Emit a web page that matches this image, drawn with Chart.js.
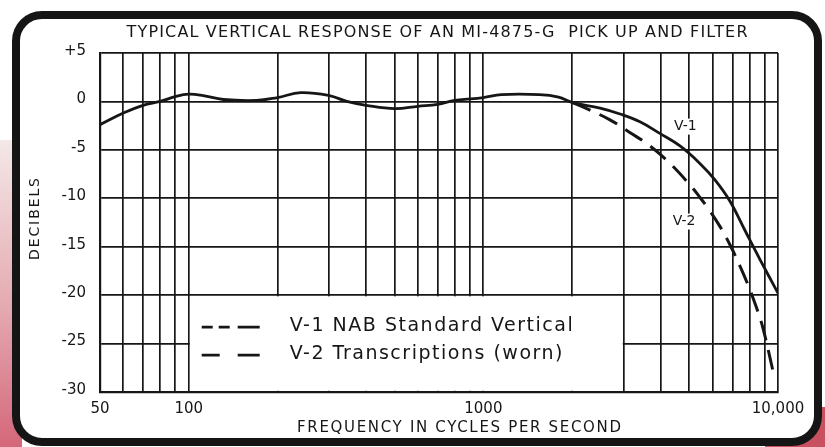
<!DOCTYPE html>
<html>
<head>
<meta charset="utf-8">
<title>Typical vertical response of an MI-4875-G pick up and filter</title>
<script src="https://cdn.jsdelivr.net/npm/chart.js@4.4.1/dist/chart.umd.min.js"></script>
<style>
  html, body { margin: 0; padding: 0; background: #fff; }
  #page { position: relative; width: 825px; height: 447px; overflow: hidden; background: #fff; }
  /* bits of the page the card was photographed on */
  #edge { position: absolute; left: 0; top: 140px; width: 22px; height: 307px;
          background: linear-gradient(#f4e8e8, #e4a9b0 55%, #d4677a); }
  #corner { position: absolute; right: 0; bottom: 0; width: 60px; height: 40px; background: #c9505e; }
  #frame { position: absolute; left: 12px; top: 11px; width: 810px; height: 435px; box-sizing: border-box;
           border: 8px solid #151515; border-radius: 30px; background: #fff; }
  #wrap { position: absolute; left: 0; top: 0; width: 825px; height: 447px; }
</style>
</head>
<body>
<div id="page">
  <div id="edge"></div>
  <div id="corner"></div>
  <div id="frame"></div>
  <div id="wrap"><canvas id="chart"></canvas></div>
</div>
<script>
const INK = '#161616';
const FONT = '"DejaVu Sans", sans-serif';

const TITLE = 'TYPICAL VERTICAL RESPONSE OF AN MI-4875-G  PICK UP AND FILTER';
const X_TITLE = 'FREQUENCY IN CYCLES PER SECOND';
const Y_TITLE = 'DECIBELS';

// grid lines on the frequency axis, and the ones that carry a label
const freqGrid = [50, 60, 70, 80, 90, 100, 200, 300, 400, 500, 600, 700, 800, 900,
  1000, 2000, 3000, 4000, 5000, 6000, 7000, 8000, 9000, 10000];
const freqLabelValues = [50, 100, 1000, 10000];
const freqLabelTexts = ['50', '100', '1000', '10,000'];

const dbTickValues = [-30, -25, -20, -15, -10, -5, 0, 5];
const dbTickTexts = ['-30', '-25', '-20', '-15', '-10', '-5', '0', '+5'];

// V-1 NAB standard vertical (solid); below ~2000 c/s it is the common curve
const freqV1 = [50, 60, 70, 80, 90, 100, 112, 131, 170, 200, 240, 300, 344, 400, 500, 600,
  700, 800, 1000, 1150, 1550, 1800, 2000, 2490, 2910, 3400, 3970, 4650, 5430, 6110, 6870,
  7720, 8680, 10000];
const dbV1 = [-2.4, -1.2, -0.4, 0.0, 0.5, 0.75, 0.6, 0.2, 0.1, 0.4, 0.9, 0.6, 0.0, -0.4, -0.75, -0.5,
  -0.3, 0.1, 0.4, 0.7, 0.7, 0.45, -0.1, -0.7, -1.3, -2.1, -3.3, -4.6, -6.4, -8.1, -10.3,
  -13.3, -16.3, -19.8];

// V-2 transcriptions (worn), dashed, splits off above 2000 c/s
const freqV2 = [2000, 2300, 2690, 3140, 3680, 4300, 5020, 5430, 5870, 6350, 6870, 7430,
  7900, 8410, 8890, 9610];
const dbV2 = [-0.1, -0.9, -1.9, -3.2, -4.6, -6.4, -8.6, -9.9, -11.3, -12.9, -14.8, -17.0,
  -18.9, -21.1, -23.4, -27.8];

const legendTexts = ['V-1 NAB Standard Vertical', 'V-2 Transcriptions (worn)'];
const curveLabels = ['V-1', 'V-2'];
const curveLabelFreq = [4850, 4800];
const curveLabelDb = [-2.6, -12.4];

// stretch a line of text to a given width with letter spacing
function spacedText(ctx, text, cx, cy, width) {
  ctx.letterSpacing = '0px';
  const w = ctx.measureText(text).width;
  ctx.letterSpacing = ((width - w) / (text.length - 1)) + 'px';
  ctx.textAlign = 'left';
  ctx.fillText(text, cx - width / 2, cy);
  ctx.letterSpacing = '0px';
}

const paperPlugin = {
  id: 'paper',
  beforeDatasetsDraw(chart) {
    const { ctx, scales: { x, y } } = chart;
    const l = x.getPixelForValue(100), r = x.getPixelForValue(3000);
    const t = y.getPixelForValue(-20), b = y.getPixelForValue(-30);
    ctx.save();
    // legend box blanks out the grid under it
    ctx.fillStyle = '#fff';
    ctx.fillRect(l + 1.2, t + 1.2, r - l - 2.4, b - t - 2.4);

    ctx.strokeStyle = INK;
    ctx.lineWidth = 2.6;
    const dashes = [[11, 6, 11, 8, 22, 0], [18, 18, 20, 0]];
    dashes.forEach((d, i) => {
      const yy = t + 32 + i * 28;
      ctx.setLineDash(d);
      ctx.beginPath();
      ctx.moveTo(l + 13, yy);
      ctx.lineTo(l + 71, yy);
      ctx.stroke();
    });
    ctx.setLineDash([]);

    ctx.fillStyle = INK;
    ctx.textBaseline = 'middle';
    ctx.font = '19px ' + FONT;
    const w0 = ctx.measureText(legendTexts[0]).width;
    const gap = (283 - w0) / (legendTexts[0].length - 1);
    ctx.letterSpacing = gap + 'px';
    ctx.textAlign = 'left';
    legendTexts.forEach((txt, i) => ctx.fillText(txt, l + 101, t + 31 + i * 28));
    ctx.letterSpacing = '0px';

    // curve labels, sitting on a patch of white
    ctx.font = '14px ' + FONT;
    ctx.textAlign = 'center';
    curveLabels.forEach((txt, i) => {
      const px = x.getPixelForValue(curveLabelFreq[i]);
      const py = y.getPixelForValue(curveLabelDb[i]);
      const w = ctx.measureText(txt).width;
      ctx.fillStyle = '#fff';
      ctx.fillRect(px - w / 2 - 2, py - 8, w + 4, 16);
      ctx.fillStyle = INK;
      ctx.fillText(txt, px, py);
    });
    ctx.restore();
  },
  afterDraw(chart) {
    const { ctx } = chart;
    ctx.save();
    ctx.fillStyle = INK;
    ctx.textBaseline = 'middle';
    ctx.font = '16px ' + FONT;
    spacedText(ctx, TITLE, 437, 33, 621);
    ctx.font = '15px ' + FONT;
    spacedText(ctx, X_TITLE, 459, 428, 324);
    ctx.translate(35, 219);
    ctx.rotate(-Math.PI / 2);
    ctx.font = '14px ' + FONT;
    spacedText(ctx, Y_TITLE, 0, 0, 82);
    ctx.restore();
  }
};

new Chart(document.getElementById('chart'), {
  type: 'line',
  data: {
    datasets: [
      {
        label: 'V-1',
        data: freqV1.map((f, i) => ({ x: f, y: dbV1[i] })),
        borderColor: INK,
        borderWidth: 2.8,
        tension: 0.4,
        pointRadius: 0
      },
      {
        label: 'V-2',
        data: freqV2.map((f, i) => ({ x: f, y: dbV2[i] })),
        borderColor: INK,
        borderWidth: 3,
        borderDash: [20, 10],
        tension: 0.4,
        pointRadius: 0
      }
    ]
  },
  options: {
    responsive: true,
    maintainAspectRatio: false,
    animation: false,
    layout: { padding: { left: 28, right: 47, top: 53, bottom: 14 } },
    plugins: {
      legend: { display: false },
      tooltip: { enabled: false },
      title: { display: false }
    },
    scales: {
      x: {
        type: 'logarithmic',
        min: 50,
        max: 10000,
        afterBuildTicks: s => { s.ticks = freqGrid.map(v => ({ value: v })); },
        afterFit: s => { s.height = 41; },
        grid: { color: INK, lineWidth: 1.7, drawTicks: false },
        border: { color: INK, width: 2.2 },
        ticks: {
          autoSkip: false,
          maxRotation: 0,
          padding: 8,
          color: INK,
          font: { family: 'DejaVu Sans', size: 15 },
          callback: v => {
            const i = freqLabelValues.indexOf(v);
            return i < 0 ? '' : freqLabelTexts[i];
          }
        }
      },
      y: {
        type: 'linear',
        min: -30,
        max: 5,
        afterBuildTicks: s => { s.ticks = dbTickValues.map(v => ({ value: v })); },
        afterFit: s => { s.width = 72; },
        grid: { color: INK, lineWidth: 1.7, drawTicks: false },
        border: { color: INK, width: 2.2 },
        ticks: {
          padding: 14,
          labelOffset: -2,
          color: INK,
          font: { family: 'DejaVu Sans', size: 15 },
          callback: v => dbTickTexts[dbTickValues.indexOf(v)]
        }
      }
    }
  },
  plugins: [paperPlugin]
});
</script>
</body>
</html>
